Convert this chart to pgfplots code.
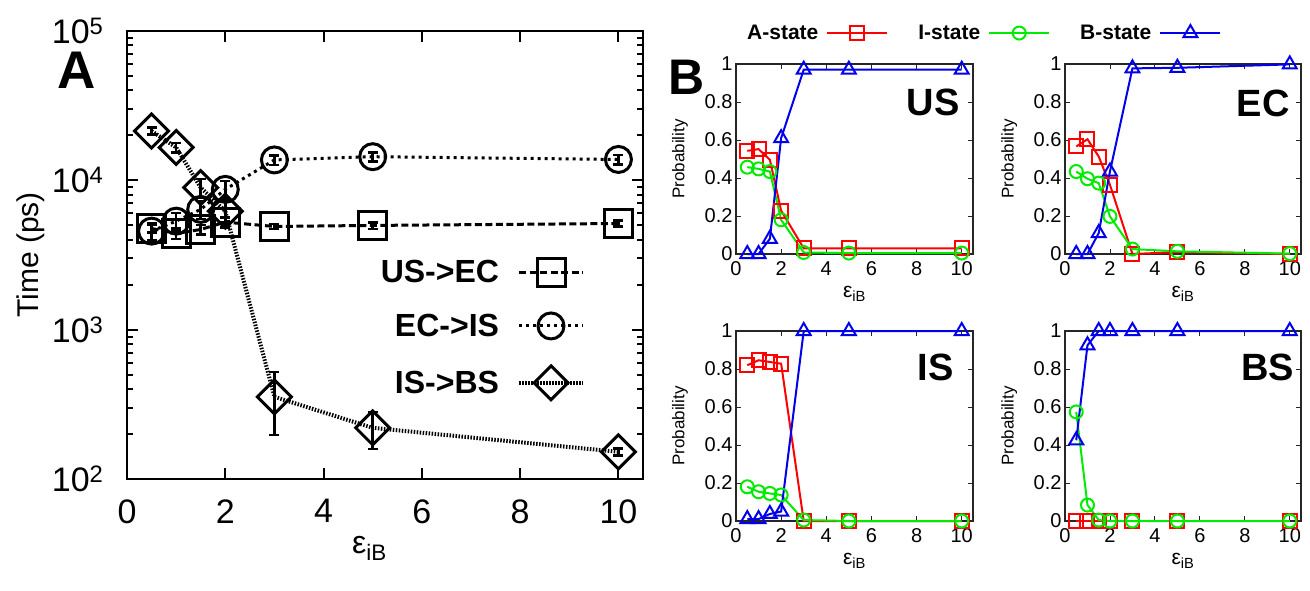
\documentclass[border=0pt]{standalone}
\usepackage{fontspec}
\setmainfont{Liberation Sans}
\usepackage{pgfplots}
\pgfplotsset{compat=1.18}
\definecolor{cr}{RGB}{255,0,0}
\definecolor{cg}{RGB}{0,235,0}
\definecolor{cb}{RGB}{0,0,235}
\newcommand{\fs}[1]{\fontsize{#1}{#1}\selectfont}
\pgfplotsset{
  pbase/.style={
    scale only axis, anchor=south west,
    width=237pt, height=190pt,
    xmin=0, xmax=10.5, ymin=0, ymax=1,
    xtick={0,2,4,6,8,10}, ytick={0,0.2,0.4,0.6,0.8,1},
    tick align=inside, major tick length=5pt,
    axis line style={line width=1.1pt, black!85},
    every tick/.style={line width=0.9pt, black!85},
    tick label style={font=\fs{20}},
    xticklabel style={yshift=-4pt},
    /pgf/number format/assume math mode=true,
    ylabel={Probability},
    ylabel style={font=\fs{17}, at={(axis description cs:-0.236,0.5)}, anchor=center},
    xlabel={ε\textsubscript{iB}},
    xlabel style={font=\fs{21}, at={(axis description cs:0.5,-0.21)}, anchor=center},
    clip=false,
    every axis plot/.append style={line width=2pt},
  },
  sA/.style={color=cr, mark=square, mark size=7pt},
  sI/.style={color=cg, mark=o, mark size=6.5pt},
  sB/.style={color=cb, mark=triangle, mark size=8pt},
}
\begin{document}
\begin{tikzpicture}
\useasboundingbox (0pt,0pt) rectangle (1310pt,-590pt);

% ---------------- Panel A ----------------
\begin{axis}[
  scale only axis, anchor=south west, at={(127pt,-479pt)},
  width=516pt, height=448pt,
  ymode=log, xmin=0, xmax=10.5, ymin=100, ymax=100000,
  xtick={0,2,4,6,8,10}, ytick={100,1000,10000,100000},
  yticklabels={10\textsuperscript{2},10\textsuperscript{3},10\textsuperscript{4},10\textsuperscript{5}},
  tick align=inside, major tick length=11pt, minor tick length=6pt,
  axis line style={line width=2pt},
  every tick/.style={line width=2pt, black},
  tick label style={font=\fs{34}},
  xticklabel style={yshift=-17pt},
  yticklabel style={xshift=-20pt},
  /pgf/number format/assume math mode=true,
  ylabel={Time (ps)}, ylabel style={font=\fs{30}, at={(axis description cs:-0.187,0.5)}, anchor=center},
  xlabel={ε\textsubscript{iB}}, xlabel style={font=\fs{32}, at={(axis description cs:0.47,-0.155)}, anchor=center},
  clip=false,
  legend style={draw=none, fill=none, font=\bfseries\fs{32}, at={(axis description cs:0.888,0.335)}, anchor=east,
    row sep=26pt, inner sep=0pt, /tikz/every odd column/.append style={column sep=16pt}},
  legend cell align=right,
  legend plot pos=right,
  legend image code/.code={\draw[mark repeat=2,mark phase=2,#1] plot coordinates {(0pt,0pt) (32pt,0pt) (64pt,0pt)};},
  error bars/y dir=both, error bars/y explicit,
  error bars/error bar style={line width=2.5pt, solid, black},
  error bars/error mark options={rotate=90, mark size=5pt, line width=2.5pt, solid, black},
]
\addplot[black, line width=3pt, dash pattern=on 7pt off 3.5pt, mark=square, mark size=14pt, mark options={solid, line width=3pt}]
  coordinates {(0.5,4760) +- (0,300) (1,4400) +- (0,350) (1.5,4690) +- (0,350) (2,5250) +- (0,400) (3,4910) +- (0,200) (5,4990) +- (0,250) (10,5140) +- (0,250)};
\addlegendentry{US->EC}
\addplot[black, line width=3pt, dash pattern=on 3pt off 4pt, mark=o, mark size=13pt, mark options={solid, line width=3pt}]
  coordinates {(0.5,4570) +- (0,600) (1,5330) +- (0,700) (1.5,6390) +- (0,900) (2,8700) +- (0,1200) (3,13700) +- (0,1000) (5,14400) +- (0,1000) (10,13800) +- (0,1000)};
\addlegendentry{EC->IS}
\addplot[black, line width=4pt, dash pattern=on 1.5pt off 1.5pt, mark=square, mark size=12pt, mark options={solid, rotate=45, line width=3pt}]
  coordinates {(0.5,21400) +- (0,1200) (1,16600) +- (0,1200) (1.5,8940) +- (0,1300) (2,6220) +- (0,1000) (3,355) += (0,167) -= (0,158) (5,220) += (0,62) -= (0,61) (10,152) +- (0,8)};
\addlegendentry{IS->BS}
\end{axis}
\node[font=\bfseries\fs{53}] at (77pt,-70pt) {A};

% ---------------- Panel B: US ----------------
\begin{axis}[pbase, at={(736pt,-254pt)},
  legend style={draw=none, fill=none, font=\bfseries\fs{21}, at={(axis description cs:0.038,1.163)}, anchor=west,
    inner sep=0pt, /tikz/every even column/.append style={column sep=28pt},
    /tikz/every odd column/.append style={column sep=6pt}},
  legend columns=3, legend plot pos=right,
  legend image code/.code={\draw[mark repeat=2,mark phase=2,#1] plot coordinates {(0pt,0pt) (30pt,0pt) (60pt,0pt)};},
]
\addplot[sA] coordinates {(0.5,0.543) (1,0.552) (1.5,0.496) (2,0.228) (3,0.03) (5,0.03) (10,0.03)};
\addlegendentry{A-state}
\addplot[sI] coordinates {(0.5,0.457) (1,0.448) (1.5,0.434) (2,0.18) (3,0.008) (5,0.005) (10,0.005)};
\addlegendentry{I-state}
\addplot[sB] coordinates {(0.5,0.0) (1,0.0) (1.5,0.08) (2,0.61) (3,0.97) (5,0.97) (10,0.97)};
\addlegendentry{B-state}
\node[font=\bfseries\fs{38}, anchor=east] at (axis description cs:0.958,0.8) {US};
\end{axis}
\node[font=\bfseries\fs{50}] at (687pt,-77pt) {B};

% ---------------- Panel B: EC ----------------
\begin{axis}[pbase, at={(1065pt,-254pt)}, width=236pt]
\addplot[sA] coordinates {(0.5,0.566) (1,0.604) (1.5,0.513) (2,0.364) (3,0.0) (5,0.01) (10,0.0)};
\addplot[sI] coordinates {(0.5,0.434) (1,0.396) (1.5,0.373) (2,0.198) (3,0.026) (5,0.014) (10,0.002)};
\addplot[sB] coordinates {(0.5,0.0) (1,0.0) (1.5,0.11) (2,0.434) (3,0.977) (5,0.98) (10,0.998)};
\node[font=\bfseries\fs{38}, anchor=east] at (axis description cs:0.966,0.795) {EC};
\end{axis}

% ---------------- Panel B: IS ----------------
\begin{axis}[pbase, at={(736pt,-521pt)}]
\addplot[sA] coordinates {(0.5,0.82) (1,0.846) (1.5,0.837) (2,0.828) (3,0.0) (5,0.0) (10,0.0)};
\addplot[sI] coordinates {(0.5,0.18) (1,0.154) (1.5,0.145) (2,0.137) (3,0.005) (5,0.0) (10,0.0)};
\addplot[sB] coordinates {(0.5,0.01) (1,0.01) (1.5,0.037) (2,0.05) (3,1.0) (5,1.0) (10,1.0)};
\node[font=\bfseries\fs{38}, anchor=east] at (axis description cs:0.933,0.81) {IS};
\end{axis}

% ---------------- Panel B: BS ----------------
\begin{axis}[pbase, at={(1065pt,-521pt)}, width=236pt]
\addplot[sA] coordinates {(0.5,0.0) (1,0.0) (1.5,0.0) (2,0.0) (3,0.0) (5,0.0) (10,0.0)};
\addplot[sI] coordinates {(0.5,0.574) (1,0.084) (1.5,0.005) (2,0.0) (3,0.0) (5,0.0) (10,0.0)};
\addplot[sB] coordinates {(0.5,0.425) (1,0.925) (1.5,1.0) (2,1.0) (3,1.0) (5,1.0) (10,1.0)};
\node[font=\bfseries\fs{38}, anchor=east] at (axis description cs:0.985,0.81) {BS};
\end{axis}
\end{tikzpicture}
\end{document}
